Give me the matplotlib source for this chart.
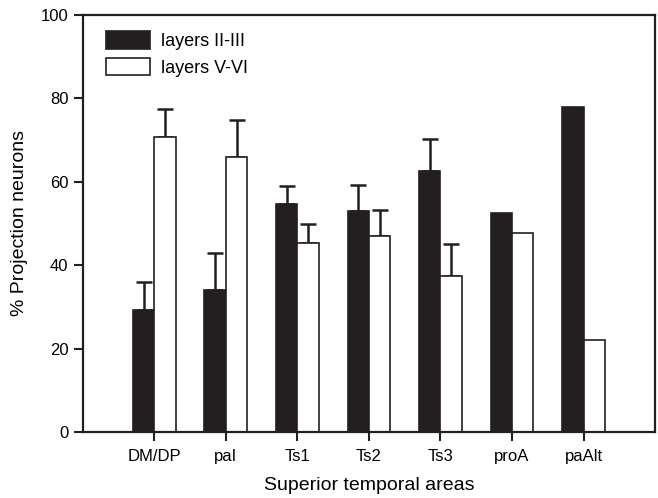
import matplotlib
matplotlib.use('Agg')
import matplotlib.pyplot as plt
import numpy as np

# Data
areas = ['DM/DP', 'paI', 'Ts1', 'Ts2', 'Ts3', 'proA', 'paAlt']
layers_2_3 = [29.3, 34.1, 54.6, 53.0, 62.6, 52.4, 78.0]
layers_2_3_err = [6.7, 8.8, 4.3, 6.2, 7.6, 0, 0]
layers_5_6 = [70.7, 66.0, 45.4, 47.0, 37.5, 47.6, 22.1]
layers_5_6_err = [6.8, 8.8, 4.5, 6.3, 7.5, 0, 0]

plt.rcParams['font.family'] = ['Liberation Sans', 'DejaVu Sans']
dark = '#231f20'

fig = plt.figure(figsize=(6.58, 4.98), dpi=100)
ax = fig.add_axes([0.126, 0.1325, 0.8695, 0.8375])

x = np.arange(len(areas))
w = 0.3


def draw_errors(xpos, vals, errs):
    """Upper-only error bars, skipped where no error is shown."""
    vals, errs = np.array(vals), np.array(errs)
    keep = errs > 0
    ax.errorbar(xpos[keep], vals[keep], yerr=[np.zeros(keep.sum()), errs[keep]],
                fmt='none', ecolor=dark, elinewidth=1.8, capsize=5.5,
                capthick=1.8, zorder=1)


ax.bar(x - w / 2, layers_2_3, w, color=dark, edgecolor=dark, linewidth=1.2,
       label='layers II-III', zorder=2)
ax.bar(x + w / 2, layers_5_6, w, color='white', edgecolor=dark, linewidth=1.2,
       label='layers V-VI', zorder=2)
draw_errors(x - w / 2, layers_2_3, layers_2_3_err)
draw_errors(x + w / 2, layers_5_6, layers_5_6_err)

ax.set_xlim(-1, 7)
ax.set_ylim(0, 100)
ax.set_xticks(x)
ax.set_xticklabels(areas)
ax.set_yticks(range(0, 101, 20))
ax.tick_params(axis='both', direction='out', length=6.5, width=1.5, color=dark,
               labelsize=12)
ax.tick_params(axis='x', pad=6)
ax.tick_params(axis='y', pad=4)
for s in ax.spines.values():
    s.set_linewidth(1.6)
    s.set_color(dark)

ax.set_xlabel('Superior temporal areas', fontsize=14, labelpad=9)
ax.set_ylabel('% Projection neurons', fontsize=14, labelpad=9)

ax.legend(loc='upper left', frameon=False, fontsize=13, handlelength=2.45,
          handleheight=1.1, handletextpad=0.6, labelspacing=0.45,
          bbox_to_anchor=(0.012, 1.0), borderaxespad=0.5)

fig.savefig('out.png', dpi=100)
